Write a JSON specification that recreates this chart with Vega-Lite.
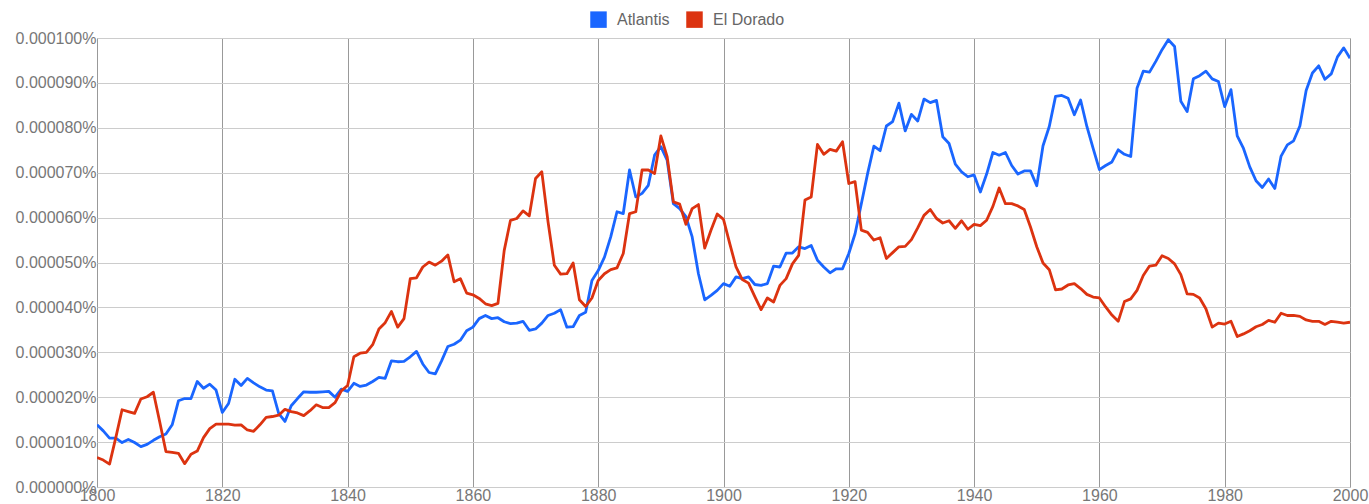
{
  "$schema": "https://vega.github.io/schema/vega-lite/v6.json",
  "width": 1253,
  "height": 449,
  "autosize": {"type": "none"},
  "padding": {"left": 97, "top": 38, "right": 19, "bottom": 17},
  "background": "white",
  "config": {
    "view": {"stroke": "#aaaaaa", "strokeWidth": 1},
    "font": "Liberation Sans"
  },
  "data": {"values": [
{"year":1800,"term":"Atlantis","pct":13.85e-6},{"year":1801,"term":"Atlantis","pct":12.5e-6},{"year":1802,"term":"Atlantis","pct":10.9e-6},{"year":1803,"term":"Atlantis","pct":10.9e-6},{"year":1804,"term":"Atlantis","pct":9.9e-6},{"year":1805,"term":"Atlantis","pct":10.6e-6},{"year":1806,"term":"Atlantis","pct":9.9e-6},{"year":1807,"term":"Atlantis","pct":9.0e-6},{"year":1808,"term":"Atlantis","pct":9.5e-6},{"year":1809,"term":"Atlantis","pct":10.4e-6},
{"year":1810,"term":"Atlantis","pct":11.2e-6},{"year":1811,"term":"Atlantis","pct":11.8e-6},{"year":1812,"term":"Atlantis","pct":13.85e-6},{"year":1813,"term":"Atlantis","pct":19.2e-6},{"year":1814,"term":"Atlantis","pct":19.7e-6},{"year":1815,"term":"Atlantis","pct":19.7e-6},{"year":1816,"term":"Atlantis","pct":23.5e-6},{"year":1817,"term":"Atlantis","pct":22.0e-6},{"year":1818,"term":"Atlantis","pct":22.9e-6},{"year":1819,"term":"Atlantis","pct":21.6e-6},
{"year":1820,"term":"Atlantis","pct":16.6e-6},{"year":1821,"term":"Atlantis","pct":18.6e-6},{"year":1822,"term":"Atlantis","pct":24.0e-6},{"year":1823,"term":"Atlantis","pct":22.6e-6},{"year":1824,"term":"Atlantis","pct":24.2e-6},{"year":1825,"term":"Atlantis","pct":23.2e-6},{"year":1826,"term":"Atlantis","pct":22.3e-6},{"year":1827,"term":"Atlantis","pct":21.6e-6},{"year":1828,"term":"Atlantis","pct":21.4e-6},{"year":1829,"term":"Atlantis","pct":16.4e-6},
{"year":1830,"term":"Atlantis","pct":14.6e-6},{"year":1831,"term":"Atlantis","pct":18.1e-6},{"year":1832,"term":"Atlantis","pct":19.7e-6},{"year":1833,"term":"Atlantis","pct":21.2e-6},{"year":1834,"term":"Atlantis","pct":21.1e-6},{"year":1835,"term":"Atlantis","pct":21.1e-6},{"year":1836,"term":"Atlantis","pct":21.2e-6},{"year":1837,"term":"Atlantis","pct":21.3e-6},{"year":1838,"term":"Atlantis","pct":20.0e-6},{"year":1839,"term":"Atlantis","pct":21.8e-6},
{"year":1840,"term":"Atlantis","pct":21.3e-6},{"year":1841,"term":"Atlantis","pct":23.1e-6},{"year":1842,"term":"Atlantis","pct":22.4e-6},{"year":1843,"term":"Atlantis","pct":22.7e-6},{"year":1844,"term":"Atlantis","pct":23.5e-6},{"year":1845,"term":"Atlantis","pct":24.4e-6},{"year":1846,"term":"Atlantis","pct":24.2e-6},{"year":1847,"term":"Atlantis","pct":28.1e-6},{"year":1848,"term":"Atlantis","pct":27.9e-6},{"year":1849,"term":"Atlantis","pct":28.0e-6},
{"year":1850,"term":"Atlantis","pct":29.0e-6},{"year":1851,"term":"Atlantis","pct":30.2e-6},{"year":1852,"term":"Atlantis","pct":27.4e-6},{"year":1853,"term":"Atlantis","pct":25.5e-6},{"year":1854,"term":"Atlantis","pct":25.2e-6},{"year":1855,"term":"Atlantis","pct":28.1e-6},{"year":1856,"term":"Atlantis","pct":31.3e-6},{"year":1857,"term":"Atlantis","pct":31.8e-6},{"year":1858,"term":"Atlantis","pct":32.7e-6},{"year":1859,"term":"Atlantis","pct":34.8e-6},
{"year":1860,"term":"Atlantis","pct":35.6e-6},{"year":1861,"term":"Atlantis","pct":37.5e-6},{"year":1862,"term":"Atlantis","pct":38.2e-6},{"year":1863,"term":"Atlantis","pct":37.5e-6},{"year":1864,"term":"Atlantis","pct":37.7e-6},{"year":1865,"term":"Atlantis","pct":36.8e-6},{"year":1866,"term":"Atlantis","pct":36.4e-6},{"year":1867,"term":"Atlantis","pct":36.5e-6},{"year":1868,"term":"Atlantis","pct":36.9e-6},{"year":1869,"term":"Atlantis","pct":34.9e-6},
{"year":1870,"term":"Atlantis","pct":35.2e-6},{"year":1871,"term":"Atlantis","pct":36.5e-6},{"year":1872,"term":"Atlantis","pct":38.2e-6},{"year":1873,"term":"Atlantis","pct":38.7e-6},{"year":1874,"term":"Atlantis","pct":39.5e-6},{"year":1875,"term":"Atlantis","pct":35.6e-6},{"year":1876,"term":"Atlantis","pct":35.7e-6},{"year":1877,"term":"Atlantis","pct":38.2e-6},{"year":1878,"term":"Atlantis","pct":38.9e-6},{"year":1879,"term":"Atlantis","pct":46.0e-6},
{"year":1880,"term":"Atlantis","pct":48.2e-6},{"year":1881,"term":"Atlantis","pct":51.2e-6},{"year":1882,"term":"Atlantis","pct":55.7e-6},{"year":1883,"term":"Atlantis","pct":61.3e-6},{"year":1884,"term":"Atlantis","pct":60.9e-6},{"year":1885,"term":"Atlantis","pct":70.6e-6},{"year":1886,"term":"Atlantis","pct":64.6e-6},{"year":1887,"term":"Atlantis","pct":65.4e-6},{"year":1888,"term":"Atlantis","pct":67.2e-6},{"year":1889,"term":"Atlantis","pct":73.9e-6},
{"year":1890,"term":"Atlantis","pct":75.8e-6},{"year":1891,"term":"Atlantis","pct":72.8e-6},{"year":1892,"term":"Atlantis","pct":63.1e-6},{"year":1893,"term":"Atlantis","pct":62.0e-6},{"year":1894,"term":"Atlantis","pct":60.2e-6},{"year":1895,"term":"Atlantis","pct":55.7e-6},{"year":1896,"term":"Atlantis","pct":47.5e-6},{"year":1897,"term":"Atlantis","pct":41.7e-6},{"year":1898,"term":"Atlantis","pct":42.7e-6},{"year":1899,"term":"Atlantis","pct":43.8e-6},
{"year":1900,"term":"Atlantis","pct":45.3e-6},{"year":1901,"term":"Atlantis","pct":44.7e-6},{"year":1902,"term":"Atlantis","pct":46.8e-6},{"year":1903,"term":"Atlantis","pct":46.4e-6},{"year":1904,"term":"Atlantis","pct":46.8e-6},{"year":1905,"term":"Atlantis","pct":45.1e-6},{"year":1906,"term":"Atlantis","pct":44.9e-6},{"year":1907,"term":"Atlantis","pct":45.3e-6},{"year":1908,"term":"Atlantis","pct":49.2e-6},{"year":1909,"term":"Atlantis","pct":49.0e-6},
{"year":1910,"term":"Atlantis","pct":52.1e-6},{"year":1911,"term":"Atlantis","pct":52.1e-6},{"year":1912,"term":"Atlantis","pct":53.5e-6},{"year":1913,"term":"Atlantis","pct":53.1e-6},{"year":1914,"term":"Atlantis","pct":53.8e-6},{"year":1915,"term":"Atlantis","pct":50.5e-6},{"year":1916,"term":"Atlantis","pct":49.0e-6},{"year":1917,"term":"Atlantis","pct":47.7e-6},{"year":1918,"term":"Atlantis","pct":48.6e-6},{"year":1919,"term":"Atlantis","pct":48.6e-6},
{"year":1920,"term":"Atlantis","pct":52.0e-6},{"year":1921,"term":"Atlantis","pct":56.4e-6},{"year":1922,"term":"Atlantis","pct":63.1e-6},{"year":1923,"term":"Atlantis","pct":69.8e-6},{"year":1924,"term":"Atlantis","pct":75.9e-6},{"year":1925,"term":"Atlantis","pct":74.9e-6},{"year":1926,"term":"Atlantis","pct":80.4e-6},{"year":1927,"term":"Atlantis","pct":81.4e-6},{"year":1928,"term":"Atlantis","pct":85.5e-6},{"year":1929,"term":"Atlantis","pct":79.3e-6},
{"year":1930,"term":"Atlantis","pct":83.0e-6},{"year":1931,"term":"Atlantis","pct":81.5e-6},{"year":1932,"term":"Atlantis","pct":86.4e-6},{"year":1933,"term":"Atlantis","pct":85.6e-6},{"year":1934,"term":"Atlantis","pct":86.1e-6},{"year":1935,"term":"Atlantis","pct":78.0e-6},{"year":1936,"term":"Atlantis","pct":76.5e-6},{"year":1937,"term":"Atlantis","pct":71.9e-6},{"year":1938,"term":"Atlantis","pct":70.2e-6},{"year":1939,"term":"Atlantis","pct":69.1e-6},
{"year":1940,"term":"Atlantis","pct":69.5e-6},{"year":1941,"term":"Atlantis","pct":65.7e-6},{"year":1942,"term":"Atlantis","pct":69.7e-6},{"year":1943,"term":"Atlantis","pct":74.5e-6},{"year":1944,"term":"Atlantis","pct":73.9e-6},{"year":1945,"term":"Atlantis","pct":74.5e-6},{"year":1946,"term":"Atlantis","pct":71.6e-6},{"year":1947,"term":"Atlantis","pct":69.7e-6},{"year":1948,"term":"Atlantis","pct":70.4e-6},{"year":1949,"term":"Atlantis","pct":70.4e-6},
{"year":1950,"term":"Atlantis","pct":67.1e-6},{"year":1951,"term":"Atlantis","pct":76.0e-6},{"year":1952,"term":"Atlantis","pct":80.3e-6},{"year":1953,"term":"Atlantis","pct":87.0e-6},{"year":1954,"term":"Atlantis","pct":87.2e-6},{"year":1955,"term":"Atlantis","pct":86.6e-6},{"year":1956,"term":"Atlantis","pct":82.9e-6},{"year":1957,"term":"Atlantis","pct":86.2e-6},{"year":1958,"term":"Atlantis","pct":80.3e-6},{"year":1959,"term":"Atlantis","pct":75.4e-6},
{"year":1960,"term":"Atlantis","pct":70.7e-6},{"year":1961,"term":"Atlantis","pct":71.6e-6},{"year":1962,"term":"Atlantis","pct":72.4e-6},{"year":1963,"term":"Atlantis","pct":75.1e-6},{"year":1964,"term":"Atlantis","pct":74.1e-6},{"year":1965,"term":"Atlantis","pct":73.6e-6},{"year":1966,"term":"Atlantis","pct":88.8e-6},{"year":1967,"term":"Atlantis","pct":92.6e-6},{"year":1968,"term":"Atlantis","pct":92.4e-6},{"year":1969,"term":"Atlantis","pct":94.8e-6},
{"year":1970,"term":"Atlantis","pct":97.4e-6},{"year":1971,"term":"Atlantis","pct":99.6e-6},{"year":1972,"term":"Atlantis","pct":98.1e-6},{"year":1973,"term":"Atlantis","pct":85.9e-6},{"year":1974,"term":"Atlantis","pct":83.6e-6},{"year":1975,"term":"Atlantis","pct":90.9e-6},{"year":1976,"term":"Atlantis","pct":91.6e-6},{"year":1977,"term":"Atlantis","pct":92.6e-6},{"year":1978,"term":"Atlantis","pct":90.9e-6},{"year":1979,"term":"Atlantis","pct":90.3e-6},
{"year":1980,"term":"Atlantis","pct":84.7e-6},{"year":1981,"term":"Atlantis","pct":88.5e-6},{"year":1982,"term":"Atlantis","pct":78.2e-6},{"year":1983,"term":"Atlantis","pct":75.4e-6},{"year":1984,"term":"Atlantis","pct":71.3e-6},{"year":1985,"term":"Atlantis","pct":68.2e-6},{"year":1986,"term":"Atlantis","pct":66.7e-6},{"year":1987,"term":"Atlantis","pct":68.6e-6},{"year":1988,"term":"Atlantis","pct":66.5e-6},{"year":1989,"term":"Atlantis","pct":73.7e-6},
{"year":1990,"term":"Atlantis","pct":76.2e-6},{"year":1991,"term":"Atlantis","pct":77.1e-6},{"year":1992,"term":"Atlantis","pct":80.4e-6},{"year":1993,"term":"Atlantis","pct":88.3e-6},{"year":1994,"term":"Atlantis","pct":92.2e-6},{"year":1995,"term":"Atlantis","pct":93.8e-6},{"year":1996,"term":"Atlantis","pct":90.8e-6},{"year":1997,"term":"Atlantis","pct":92.0e-6},{"year":1998,"term":"Atlantis","pct":95.8e-6},{"year":1999,"term":"Atlantis","pct":97.8e-6},
{"year":2000,"term":"Atlantis","pct":95.5e-6},
{"year":1800,"term":"El Dorado","pct":6.55e-6},{"year":1801,"term":"El Dorado","pct":6.0e-6},{"year":1802,"term":"El Dorado","pct":5.1e-6},{"year":1803,"term":"El Dorado","pct":11.0e-6},{"year":1804,"term":"El Dorado","pct":17.2e-6},{"year":1805,"term":"El Dorado","pct":16.8e-6},{"year":1806,"term":"El Dorado","pct":16.4e-6},{"year":1807,"term":"El Dorado","pct":19.6e-6},{"year":1808,"term":"El Dorado","pct":20.1e-6},{"year":1809,"term":"El Dorado","pct":21.1e-6},
{"year":1810,"term":"El Dorado","pct":14.6e-6},{"year":1811,"term":"El Dorado","pct":7.9e-6},{"year":1812,"term":"El Dorado","pct":7.7e-6},{"year":1813,"term":"El Dorado","pct":7.5e-6},{"year":1814,"term":"El Dorado","pct":5.2e-6},{"year":1815,"term":"El Dorado","pct":7.3e-6},{"year":1816,"term":"El Dorado","pct":8.0e-6},{"year":1817,"term":"El Dorado","pct":11.0e-6},{"year":1818,"term":"El Dorado","pct":13.0e-6},{"year":1819,"term":"El Dorado","pct":14.0e-6},
{"year":1820,"term":"El Dorado","pct":14.0e-6},{"year":1821,"term":"El Dorado","pct":14.0e-6},{"year":1822,"term":"El Dorado","pct":13.8e-6},{"year":1823,"term":"El Dorado","pct":13.85e-6},{"year":1824,"term":"El Dorado","pct":12.7e-6},{"year":1825,"term":"El Dorado","pct":12.4e-6},{"year":1826,"term":"El Dorado","pct":13.85e-6},{"year":1827,"term":"El Dorado","pct":15.5e-6},{"year":1828,"term":"El Dorado","pct":15.7e-6},{"year":1829,"term":"El Dorado","pct":16.0e-6},
{"year":1830,"term":"El Dorado","pct":17.3e-6},{"year":1831,"term":"El Dorado","pct":16.8e-6},{"year":1832,"term":"El Dorado","pct":16.5e-6},{"year":1833,"term":"El Dorado","pct":15.9e-6},{"year":1834,"term":"El Dorado","pct":17.0e-6},{"year":1835,"term":"El Dorado","pct":18.3e-6},{"year":1836,"term":"El Dorado","pct":17.7e-6},{"year":1837,"term":"El Dorado","pct":17.7e-6},{"year":1838,"term":"El Dorado","pct":18.8e-6},{"year":1839,"term":"El Dorado","pct":21.4e-6},
{"year":1840,"term":"El Dorado","pct":22.6e-6},{"year":1841,"term":"El Dorado","pct":29.0e-6},{"year":1842,"term":"El Dorado","pct":29.8e-6},{"year":1843,"term":"El Dorado","pct":30.0e-6},{"year":1844,"term":"El Dorado","pct":31.7e-6},{"year":1845,"term":"El Dorado","pct":35.2e-6},{"year":1846,"term":"El Dorado","pct":36.6e-6},{"year":1847,"term":"El Dorado","pct":39.1e-6},{"year":1848,"term":"El Dorado","pct":35.6e-6},{"year":1849,"term":"El Dorado","pct":37.5e-6},
{"year":1850,"term":"El Dorado","pct":46.4e-6},{"year":1851,"term":"El Dorado","pct":46.6e-6},{"year":1852,"term":"El Dorado","pct":49.0e-6},{"year":1853,"term":"El Dorado","pct":50.1e-6},{"year":1854,"term":"El Dorado","pct":49.4e-6},{"year":1855,"term":"El Dorado","pct":50.3e-6},{"year":1856,"term":"El Dorado","pct":51.7e-6},{"year":1857,"term":"El Dorado","pct":45.7e-6},{"year":1858,"term":"El Dorado","pct":46.4e-6},{"year":1859,"term":"El Dorado","pct":43.2e-6},
{"year":1860,"term":"El Dorado","pct":42.8e-6},{"year":1861,"term":"El Dorado","pct":42.0e-6},{"year":1862,"term":"El Dorado","pct":40.8e-6},{"year":1863,"term":"El Dorado","pct":40.4e-6},{"year":1864,"term":"El Dorado","pct":40.9e-6},{"year":1865,"term":"El Dorado","pct":52.7e-6},{"year":1866,"term":"El Dorado","pct":59.4e-6},{"year":1867,"term":"El Dorado","pct":59.8e-6},{"year":1868,"term":"El Dorado","pct":61.5e-6},{"year":1869,"term":"El Dorado","pct":60.4e-6},
{"year":1870,"term":"El Dorado","pct":68.7e-6},{"year":1871,"term":"El Dorado","pct":70.2e-6},{"year":1872,"term":"El Dorado","pct":59.0e-6},{"year":1873,"term":"El Dorado","pct":49.4e-6},{"year":1874,"term":"El Dorado","pct":47.4e-6},{"year":1875,"term":"El Dorado","pct":47.5e-6},{"year":1876,"term":"El Dorado","pct":49.9e-6},{"year":1877,"term":"El Dorado","pct":41.7e-6},{"year":1878,"term":"El Dorado","pct":40.2e-6},{"year":1879,"term":"El Dorado","pct":42.1e-6},
{"year":1880,"term":"El Dorado","pct":46.0e-6},{"year":1881,"term":"El Dorado","pct":47.5e-6},{"year":1882,"term":"El Dorado","pct":48.4e-6},{"year":1883,"term":"El Dorado","pct":48.8e-6},{"year":1884,"term":"El Dorado","pct":52.0e-6},{"year":1885,"term":"El Dorado","pct":60.9e-6},{"year":1886,"term":"El Dorado","pct":61.3e-6},{"year":1887,"term":"El Dorado","pct":70.6e-6},{"year":1888,"term":"El Dorado","pct":70.6e-6},{"year":1889,"term":"El Dorado","pct":69.8e-6},
{"year":1890,"term":"El Dorado","pct":78.2e-6},{"year":1891,"term":"El Dorado","pct":73.6e-6},{"year":1892,"term":"El Dorado","pct":63.5e-6},{"year":1893,"term":"El Dorado","pct":63.0e-6},{"year":1894,"term":"El Dorado","pct":58.5e-6},{"year":1895,"term":"El Dorado","pct":62.0e-6},{"year":1896,"term":"El Dorado","pct":62.9e-6},{"year":1897,"term":"El Dorado","pct":53.2e-6},{"year":1898,"term":"El Dorado","pct":57.2e-6},{"year":1899,"term":"El Dorado","pct":60.8e-6},
{"year":1900,"term":"El Dorado","pct":59.6e-6},{"year":1901,"term":"El Dorado","pct":54.2e-6},{"year":1902,"term":"El Dorado","pct":49.0e-6},{"year":1903,"term":"El Dorado","pct":46.2e-6},{"year":1904,"term":"El Dorado","pct":45.4e-6},{"year":1905,"term":"El Dorado","pct":42.4e-6},{"year":1906,"term":"El Dorado","pct":39.5e-6},{"year":1907,"term":"El Dorado","pct":42.1e-6},{"year":1908,"term":"El Dorado","pct":41.2e-6},{"year":1909,"term":"El Dorado","pct":44.9e-6},
{"year":1910,"term":"El Dorado","pct":46.4e-6},{"year":1911,"term":"El Dorado","pct":49.7e-6},{"year":1912,"term":"El Dorado","pct":51.6e-6},{"year":1913,"term":"El Dorado","pct":63.9e-6},{"year":1914,"term":"El Dorado","pct":64.6e-6},{"year":1915,"term":"El Dorado","pct":76.3e-6},{"year":1916,"term":"El Dorado","pct":74.1e-6},{"year":1917,"term":"El Dorado","pct":75.2e-6},{"year":1918,"term":"El Dorado","pct":74.8e-6},{"year":1919,"term":"El Dorado","pct":76.9e-6},
{"year":1920,"term":"El Dorado","pct":67.6e-6},{"year":1921,"term":"El Dorado","pct":68.0e-6},{"year":1922,"term":"El Dorado","pct":57.2e-6},{"year":1923,"term":"El Dorado","pct":56.7e-6},{"year":1924,"term":"El Dorado","pct":55.0e-6},{"year":1925,"term":"El Dorado","pct":55.5e-6},{"year":1926,"term":"El Dorado","pct":50.9e-6},{"year":1927,"term":"El Dorado","pct":52.2e-6},{"year":1928,"term":"El Dorado","pct":53.5e-6},{"year":1929,"term":"El Dorado","pct":53.6e-6},
{"year":1930,"term":"El Dorado","pct":55.1e-6},{"year":1931,"term":"El Dorado","pct":57.7e-6},{"year":1932,"term":"El Dorado","pct":60.5e-6},{"year":1933,"term":"El Dorado","pct":61.8e-6},{"year":1934,"term":"El Dorado","pct":59.8e-6},{"year":1935,"term":"El Dorado","pct":58.8e-6},{"year":1936,"term":"El Dorado","pct":59.3e-6},{"year":1937,"term":"El Dorado","pct":57.6e-6},{"year":1938,"term":"El Dorado","pct":59.3e-6},{"year":1939,"term":"El Dorado","pct":57.4e-6},
{"year":1940,"term":"El Dorado","pct":58.5e-6},{"year":1941,"term":"El Dorado","pct":58.2e-6},{"year":1942,"term":"El Dorado","pct":59.4e-6},{"year":1943,"term":"El Dorado","pct":62.5e-6},{"year":1944,"term":"El Dorado","pct":66.6e-6},{"year":1945,"term":"El Dorado","pct":63.1e-6},{"year":1946,"term":"El Dorado","pct":63.1e-6},{"year":1947,"term":"El Dorado","pct":62.6e-6},{"year":1948,"term":"El Dorado","pct":61.8e-6},{"year":1949,"term":"El Dorado","pct":57.9e-6},
{"year":1950,"term":"El Dorado","pct":53.5e-6},{"year":1951,"term":"El Dorado","pct":49.9e-6},{"year":1952,"term":"El Dorado","pct":48.4e-6},{"year":1953,"term":"El Dorado","pct":43.9e-6},{"year":1954,"term":"El Dorado","pct":44.1e-6},{"year":1955,"term":"El Dorado","pct":45.0e-6},{"year":1956,"term":"El Dorado","pct":45.3e-6},{"year":1957,"term":"El Dorado","pct":44.2e-6},{"year":1958,"term":"El Dorado","pct":42.9e-6},{"year":1959,"term":"El Dorado","pct":42.3e-6},
{"year":1960,"term":"El Dorado","pct":42.1e-6},{"year":1961,"term":"El Dorado","pct":40.1e-6},{"year":1962,"term":"El Dorado","pct":38.3e-6},{"year":1963,"term":"El Dorado","pct":36.9e-6},{"year":1964,"term":"El Dorado","pct":41.3e-6},{"year":1965,"term":"El Dorado","pct":41.9e-6},{"year":1966,"term":"El Dorado","pct":43.8e-6},{"year":1967,"term":"El Dorado","pct":47.1e-6},{"year":1968,"term":"El Dorado","pct":49.2e-6},{"year":1969,"term":"El Dorado","pct":49.4e-6},
{"year":1970,"term":"El Dorado","pct":51.5e-6},{"year":1971,"term":"El Dorado","pct":50.9e-6},{"year":1972,"term":"El Dorado","pct":49.7e-6},{"year":1973,"term":"El Dorado","pct":47.3e-6},{"year":1974,"term":"El Dorado","pct":43.0e-6},{"year":1975,"term":"El Dorado","pct":42.9e-6},{"year":1976,"term":"El Dorado","pct":42.1e-6},{"year":1977,"term":"El Dorado","pct":39.7e-6},{"year":1978,"term":"El Dorado","pct":35.6e-6},{"year":1979,"term":"El Dorado","pct":36.5e-6},
{"year":1980,"term":"El Dorado","pct":36.3e-6},{"year":1981,"term":"El Dorado","pct":36.9e-6},{"year":1982,"term":"El Dorado","pct":33.5e-6},{"year":1983,"term":"El Dorado","pct":34.1e-6},{"year":1984,"term":"El Dorado","pct":34.8e-6},{"year":1985,"term":"El Dorado","pct":35.7e-6},{"year":1986,"term":"El Dorado","pct":36.2e-6},{"year":1987,"term":"El Dorado","pct":37.1e-6},{"year":1988,"term":"El Dorado","pct":36.7e-6},{"year":1989,"term":"El Dorado","pct":38.7e-6},
{"year":1990,"term":"El Dorado","pct":38.2e-6},{"year":1991,"term":"El Dorado","pct":38.2e-6},{"year":1992,"term":"El Dorado","pct":38.0e-6},{"year":1993,"term":"El Dorado","pct":37.2e-6},{"year":1994,"term":"El Dorado","pct":36.9e-6},{"year":1995,"term":"El Dorado","pct":36.9e-6},{"year":1996,"term":"El Dorado","pct":36.2e-6},{"year":1997,"term":"El Dorado","pct":36.9e-6},{"year":1998,"term":"El Dorado","pct":36.7e-6},{"year":1999,"term":"El Dorado","pct":36.5e-6},
{"year":2000,"term":"El Dorado","pct":36.7e-6}
  ]},
  "mark": {"type": "line", "strokeWidth": 2.8, "strokeJoin": "round", "clip": true},
  "encoding": {
    "x": {
      "field": "year", "type": "quantitative",
      "scale": {"domain": [1800, 2000], "nice": false, "zero": false},
      "axis": {
        "title": null, "values": [1800,1820,1840,1860,1880,1900,1920,1940,1960,1980,2000],
        "format": "d", "domain": false, "ticks": false, "labelPadding": 0,
        "labelFontSize": 16, "labelColor": "#777777", "labelFont": "Liberation Sans",
        "labelFlush": false, "labelOverlap": false,
        "gridColor": "#999999", "gridOpacity": 1, "gridWidth": 1
      }
    },
    "y": {
      "field": "pct", "type": "quantitative",
      "scale": {"domain": [0, 0.0001], "nice": false},
      "axis": {
        "title": null,
        "values": [0, 0.00001, 0.00002, 0.00003, 0.00004, 0.00005, 0.00006, 0.00007, 0.00008, 0.00009, 0.0001],
        "labelExpr": "format(datum.value, '.6f') + '%'",
        "domain": false, "ticks": false, "labelPadding": 1,
        "labelFontSize": 16, "labelColor": "#777777", "labelFont": "Liberation Sans",
        "labelFlush": false, "labelOverlap": false,
        "gridColor": "#cccccc", "gridOpacity": 1, "gridWidth": 1
      }
    },
    "color": {
      "field": "term", "type": "nominal",
      "scale": {"domain": ["Atlantis", "El Dorado"], "range": ["#1a66ff", "#dc3310"]},
      "legend": {
        "title": null, "orient": "none", "legendX": 493, "legendY": -27,
        "direction": "horizontal", "symbolType": "square", "symbolSize": 272,
        "symbolStrokeWidth": 0, "labelFontSize": 16, "labelColor": "#666666",
        "labelFont": "Liberation Sans", "labelOffset": 10, "columnPadding": 16,
        "padding": 0,
        "encode": {"symbols": {"update": {"fill": {"scale": "color", "field": "value"}, "fillOpacity": {"value": 1}}}}
      }
    }
  }
}
